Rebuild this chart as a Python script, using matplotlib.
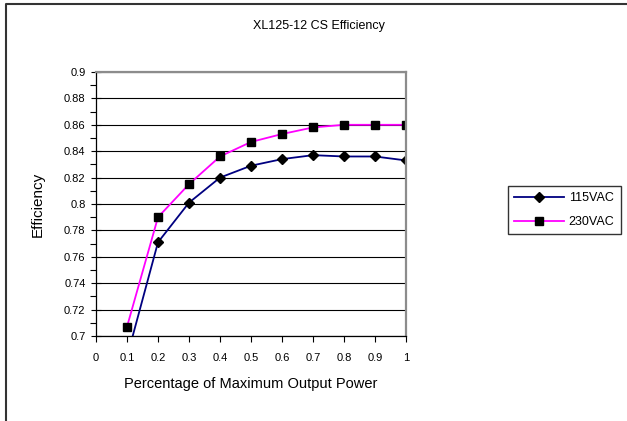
import numpy as np
import matplotlib
matplotlib.use('Agg')
import matplotlib.pyplot as plt
from matplotlib.lines import Line2D
from matplotlib.ticker import MultipleLocator

plt.rcParams['font.family'] = ['Liberation Sans', 'DejaVu Sans']

# data
power = [0.1, 0.2, 0.3, 0.4, 0.5, 0.6, 0.7, 0.8, 0.9, 1.0]
eff_115 = [0.684, 0.771, 0.801, 0.820, 0.829, 0.834, 0.837, 0.836, 0.836, 0.833]
eff_230 = [0.707, 0.790, 0.815, 0.836, 0.847, 0.853, 0.858, 0.860, 0.860, 0.860]
series_names = ['115VAC', '230VAC']

W, H = 627, 421
fig = plt.figure(figsize=(W / 100, H / 100), dpi=100, facecolor='white')

# plot area in pixels
x0, x1, y_top, y_bot = 96, 406, 72, 336
ax = fig.add_axes([x0 / W, 1 - y_bot / H, (x1 - x0) / W, (y_bot - y_top) / H])

ax.plot(power, eff_115, color='#000080', lw=1.3, marker='D', ms=5.2,
        mfc='black', mec='black', label=series_names[0])
ax.plot(power, eff_230, color='#FF00FF', lw=1.3, marker='s', ms=6.0,
        mfc='black', mec='black', label=series_names[1])

ax.set_xlim(0, 1)
ax.set_ylim(0.7, 0.9)
ax.yaxis.set_minor_locator(MultipleLocator(0.01))
ax.set_xticks(np.arange(0, 1.01, 0.1))
ax.set_xticklabels(['0', '0.1', '0.2', '0.3', '0.4', '0.5', '0.6', '0.7', '0.8', '0.9', '1'])
ax.set_yticks(np.arange(0.7, 0.901, 0.02))
ax.set_yticklabels(['0.7', '0.72', '0.74', '0.76', '0.78', '0.8', '0.82', '0.84', '0.86', '0.88', '0.9'])

ax.grid(axis='y', color='black', lw=0.8)
ax.set_axisbelow(True)

ax.tick_params(axis='x', direction='out', length=4, width=0.8, labelsize=8, pad=8)
ax.tick_params(axis='y', which='major', direction='inout', length=7, width=0.8, labelsize=8, pad=4)
ax.tick_params(axis='y', which='minor', direction='out', length=4, width=0.8)

for s in ['left', 'bottom']:
    ax.spines[s].set_color('black')
    ax.spines[s].set_linewidth(0.9)
for s in ['top', 'right']:
    ax.spines[s].set_color('#8c8c8c')
    ax.spines[s].set_linewidth(1.6)

ax.set_xlabel('Percentage of Maximum Output Power', fontsize=10.5, labelpad=10)
ax.set_ylabel('Efficiency', fontsize=11, labelpad=14)

fig.text(319 / W, 1 - 26 / H, 'XL125-12 CS Efficiency', fontsize=9,
         ha='center', va='center')

leg = fig.legend(loc='upper left', bbox_to_anchor=(508 / W, 1 - 186 / H),
                 fontsize=9, frameon=True, fancybox=False, handlelength=4.0,
                 handletextpad=0.35, borderpad=0.5, labelspacing=0.95,
                 borderaxespad=0)
leg.get_frame().set_edgecolor('black')
leg.get_frame().set_linewidth(1.0)

# chart area border (left and top edges visible)
fig.add_artist(Line2D([6 / W, 6 / W, 1], [0, 1 - 4 / H, 1 - 4 / H],
                      transform=fig.transFigure, color='#333333', lw=1.5))

fig.savefig('out.png', dpi=100, facecolor='white')
